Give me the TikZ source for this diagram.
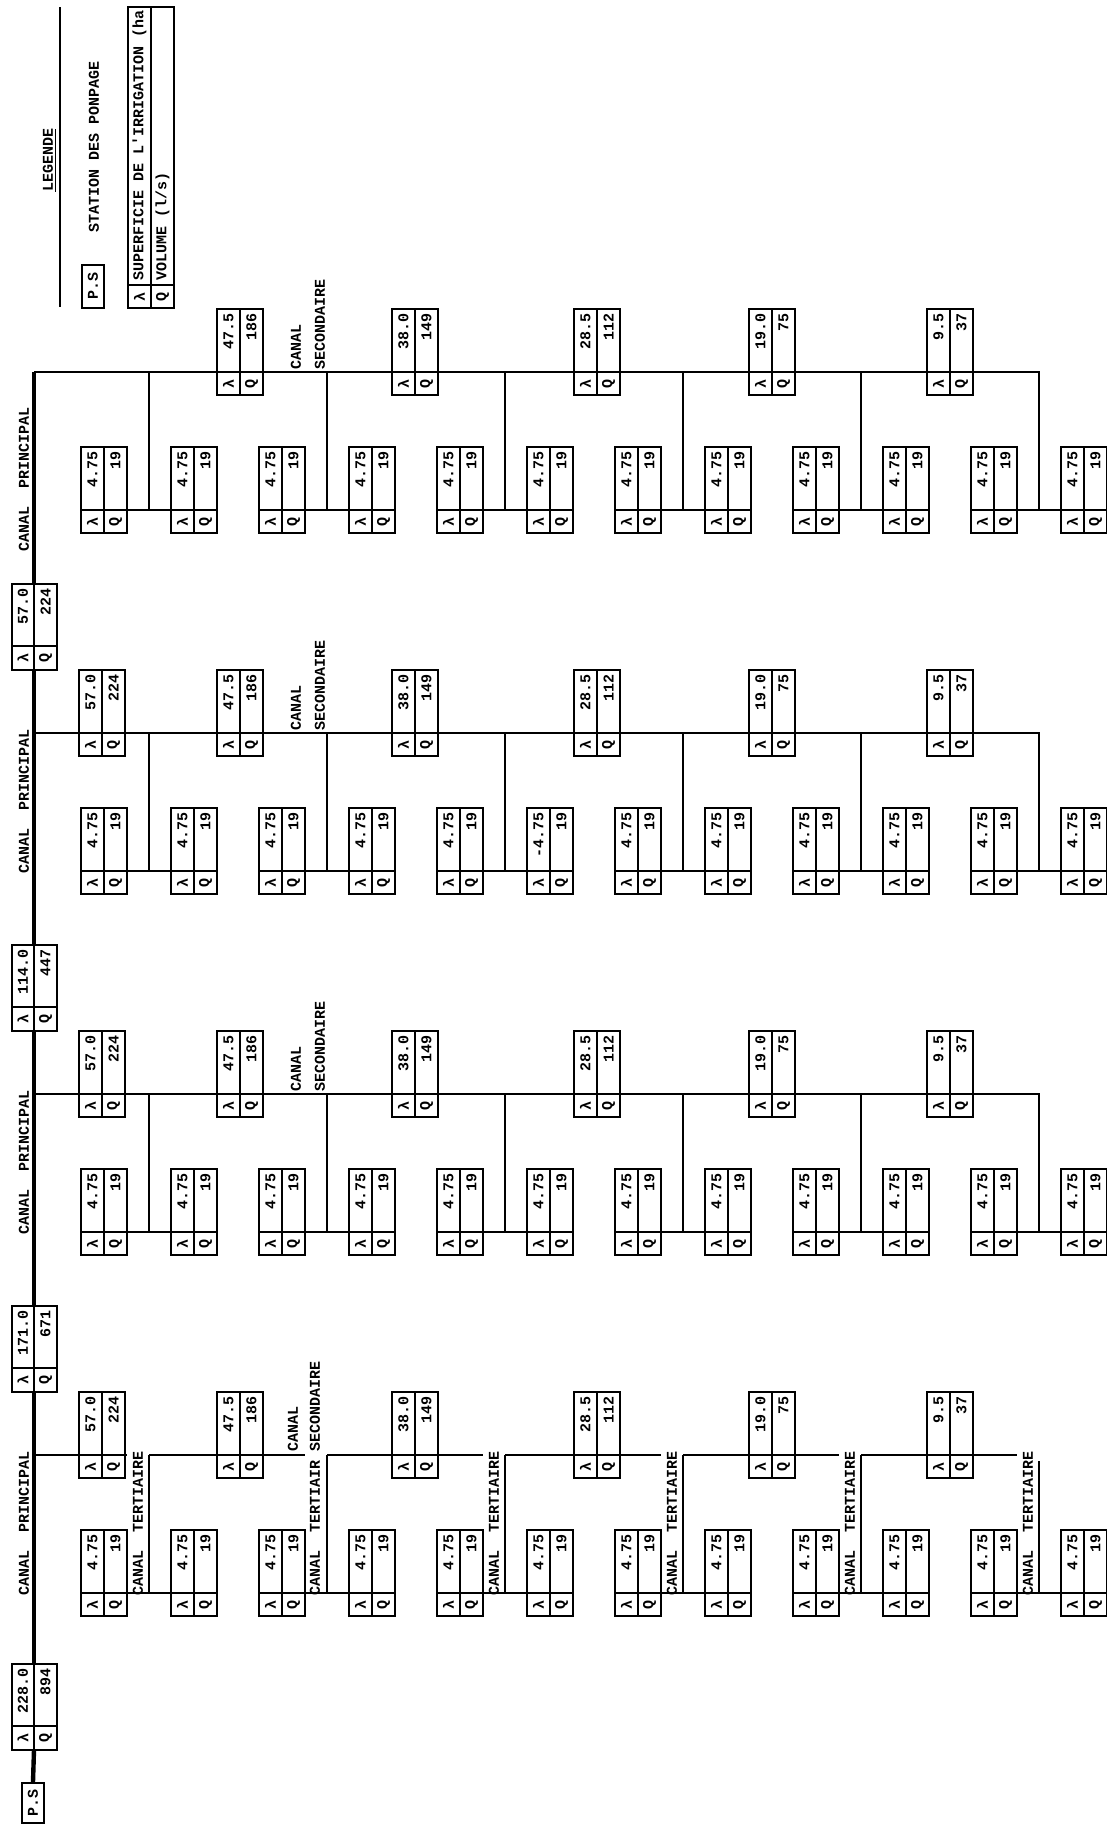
\documentclass[tikz,border=0pt]{standalone}
\usepackage{fontspec}
\newfontfamily\monof{Liberation Mono}
\newcommand\twx{\monof\bfseries\fontsize{7.5}{9}\selectfont}
\tikzset{
  rot/.style={rotate=90,inner sep=0pt,font=\twx},
  lbl/.style={rot,anchor=west},
  bl/.style={line width=1pt},
  sec/.style={line width=0.9pt},
  prin/.style={line width=2.2pt},
  pics/cbox/.style n args={2}{code={
    \draw[bl,fill=white] (-23,-63) rectangle (23,23);
    \draw[bl] (-23,0) -- (23,0) (0,-63) -- (0,23);
    \node[rot] at (-11.5,11.5) {λ};
    \node[rot] at (11.5,11.5) {Q};
    \node[rot,anchor=east] at (-11.5,-59) {#1};
    \node[rot,anchor=east] at (11.5,-59) {#2};
    \coordinate (-l) at (-23,0);
    \coordinate (-r) at (23,0);
  }},
  pics/mbox/.style n args={2}{code={
    \draw[bl,fill=white] (-22,-86) rectangle (23,0);
    \draw[bl] (-22,-24) -- (23,-24) (0,-86) -- (0,0);
    \node[rot] at (-11,-12) {λ};
    \node[rot] at (11.5,-12) {Q};
    \node[rot,anchor=east] at (-11,-82) {#1};
    \node[rot,anchor=east] at (11.5,-82) {#2};
    \coordinate (-t) at (0,-86);
    \coordinate (-b) at (0,0);
  }}
}
\begin{document}
\begin{tikzpicture}[x=0.5pt,y=-0.5pt]
\useasboundingbox[fill=white] (0,0) rectangle (1107,1827);

% ---------- legend ----------
\node[lbl] (leg) at (50,192) {\underline{LEGENDE}};
\coordinate (legA) at (60,7);
\coordinate (legB) at (60,307);
\draw[bl] (legA) -- (legB);
\node[rot,draw,bl,minimum width=21.5pt,minimum height=11pt] (psl) at (93,286) {P.S};
\node[lbl] (stat) at (94,233) {STATION DES PONPAGE};
\draw[bl] (128,7) rectangle (174,308);
\draw[bl] (151,7) -- (151,308) (128,285) -- (174,285);
\node[rot] (ll) at (139.5,296.5) {λ};
\node[rot] (lq) at (162.5,296.5) {Q};
\begin{scope}
  \clip (128,7) rectangle (174,285);
  \node[lbl] (sup) at (139.5,281) {SUPERFICIE DE L'IRRIGATION (ha)};
\end{scope}
\node[lbl] (vol) at (162.5,281) {VOLUME (l/s)};

% ---------- main canal boxes ----------
\pic (m1) at (34,670) {mbox={57.0}{224}};
\pic (m2) at (34,1031) {mbox={114.0}{447}};
\pic (m3) at (34,1392) {mbox={171.0}{671}};
\pic (m4) at (34,1750) {mbox={228.0}{894}};
\node[rot,draw,bl,minimum width=20pt,minimum height=11pt] (ps) at (33,1803) {P.S};

% ---------- branches ----------
\foreach \b/\Y in {1/372,2/733,3/1094,4/1455}{
  \coordinate (J\b) at (34,\Y);
  \foreach \i/\X/\va/\vb in {1/102/57.0/224,2/240/47.5/186,3/415/38.0/149,4/597/28.5/112,5/772/19.0/75,6/950/9.5/37}{
    \ifnum\b\i=11 \else
      \pic (s\b-\i) at (\X,\Y) {cbox={\va}{\vb}};
    \fi
  }
  \foreach \k in {1,...,6}{
    \pgfmathsetmacro\t{149+178*(\k-1)}
    \coordinate (T\b-\k) at (\t,\Y);
    \coordinate (H\b-\k) at (\t,\Y+138);
    \coordinate (G\b-\k) at (\t-22,\Y);
    \pic (L\b-\k) at (\t-45,\Y+138) {cbox={4.75}{19}};
    \ifnum\b\k=23 \def\rv{-4.75}\else\def\rv{4.75}\fi
    \pic (R\b-\k) at (\t+45,\Y+138) {cbox={\rv}{19}};
    \draw[sec] (L\b-\k-r) -- (R\b-\k-l);
  }
}

% main canal
\draw[prin] (J1) -- (m1-t);
\draw[prin] (m1-b) -- (m2-t);
\draw[prin] (m2-b) -- (m3-t);
\draw[prin] (m3-b) -- (m4-t);
\draw[prin] (m4-b) -- (ps.east);

% secondary and tertiary canals, branches 1-3
\foreach \b in {1,2,3}{
  \draw[sec] (J\b) -- (T\b-6) -- (H\b-6);
  \foreach \k in {1,...,5}{
    \draw[sec] (T\b-\k) -- (H\b-\k);
  }
}
% branch 4 (labelled tertiary canals)
\draw[sec] (J4) -- (G4-1);
\foreach \k/\n in {1/2,2/3,3/4,4/5,5/6}{
  \draw[sec] (T4-\k) -- (G4-\n);
}
\foreach \k in {1,...,5}{
  \draw[sec] (T4-\k) -- (H4-\k);
}
\coordinate (V4) at (1039,1461);
\draw[sec] (V4) -- (H4-6);

% ---------- labels ----------
\node[lbl] (cp1) at (24,552) {CANAL\ \ PRINCIPAL};
\foreach \b/\Y in {2/733,3/1094,4/1455}{
  \node[lbl] (cp\b) at (24,\Y+141) {CANAL\ \ PRINCIPAL};
}
\foreach \b/\Y in {1/372,2/733,3/1094}{
  \node[lbl] (cs\b) at (296,\Y-2) {CANAL};
  \node[lbl] (ss\b) at (320,\Y-2) {SECONDAIRE};
}
\node[lbl] (cs4) at (293,1452) {CANAL};
\node[lbl] (ss4) at (315,1452) {SECONDAIRE};
\node[lbl] (ct4-2) at (315,1596) {CANAL\ \ TERTIAIR};
\foreach \k in {1,3,4,5,6}{
  \pgfmathsetmacro\t{149+178*(\k-1)}
  \node[lbl] (ct4-\k) at (\t-11,1596) {CANAL\ \ TERTIAIRE};
}
\end{tikzpicture}
\end{document}
